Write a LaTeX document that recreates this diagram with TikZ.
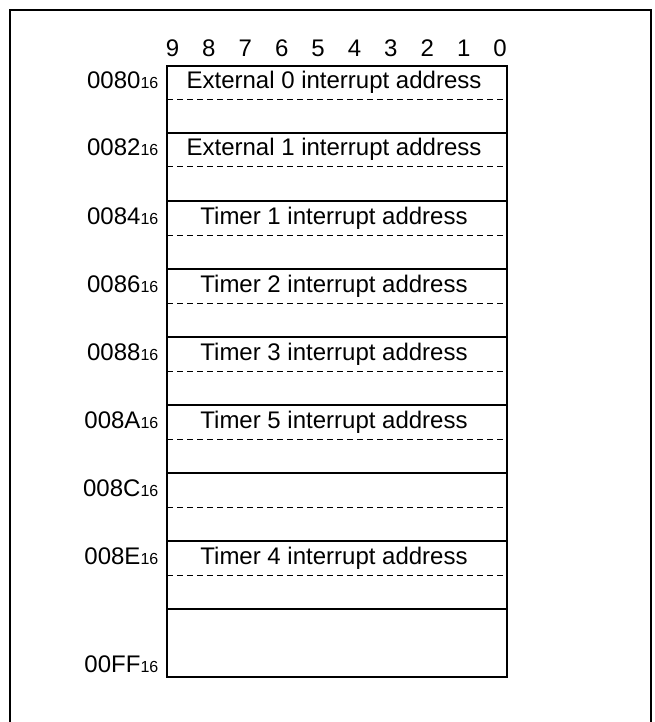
\documentclass[tikz,border=0pt]{standalone}
\usepackage{fontspec}
\setmainfont{Liberation Sans}
\begin{document}
\begin{tikzpicture}[x=1pt,y=-1pt,
  big/.style={font=\fontsize{24}{28}\selectfont},
  bitnum/.style={big, inner sep=0pt, anchor=base},
  addrlbl/.style={big, inner sep=0pt, anchor=base east},
  celltext/.style={big, inner sep=0pt, anchor=base},
  frameline/.style={line width=2pt},
  boxline/.style={line width=2.2pt},
  rowline/.style={line width=1.4pt},
  halfline/.style={line width=1pt, dash pattern=on 6pt off 4pt}]
\useasboundingbox (0,0) rectangle (655,722);
% outer frame (bottom edge lies beyond the picture)
\draw[frameline] (10,730) -- (10,10) -- (651,10) -- (651,730);
% bit numbers
\foreach \b in {0,...,9} {
  \node[bitnum] (bit\b) at ({172.5+36.4*(9-\b)},56.5) {\b};
}
% main box
\coordinate (tl) at (167,66);
\coordinate (br) at (507,677);
\draw[boxline] (tl) rectangle (br);
% rows
\foreach \t/\lab/\txt [count=\k] in {
  66/0080/External 0 interrupt address,
  133/0082/External 1 interrupt address,
  201/0084/Timer 1 interrupt address,
  269/0086/Timer 2 interrupt address,
  337/0088/Timer 3 interrupt address,
  405/008A/Timer 5 interrupt address,
  473/008C/,
  541/008E/Timer 4 interrupt address} {
  \coordinate (sl\k) at (167,\t);
  \coordinate (sr\k) at (507,\t);
  \coordinate (dl\k) at (167,\t+34);
  \coordinate (dr\k) at (507,\t+34);
  \ifnum\k>1 \draw[rowline] (sl\k) -- (sr\k); \fi
  \draw[halfline] (dl\k) -- (dr\k);
  \node[addrlbl] (addr\k) at (158.5,\t+23) {\lab\fontsize{16}{18}\selectfont 16};
  \node[celltext] (cell\k) at (334,\t+23) {\txt};
}
\coordinate (sl9) at (167,609);
\coordinate (sr9) at (507,609);
\draw[rowline] (sl9) -- (sr9);
\node[addrlbl] (addr9) at (158.5,672) {00FF\fontsize{16}{18}\selectfont 16};
\end{tikzpicture}
\end{document}
